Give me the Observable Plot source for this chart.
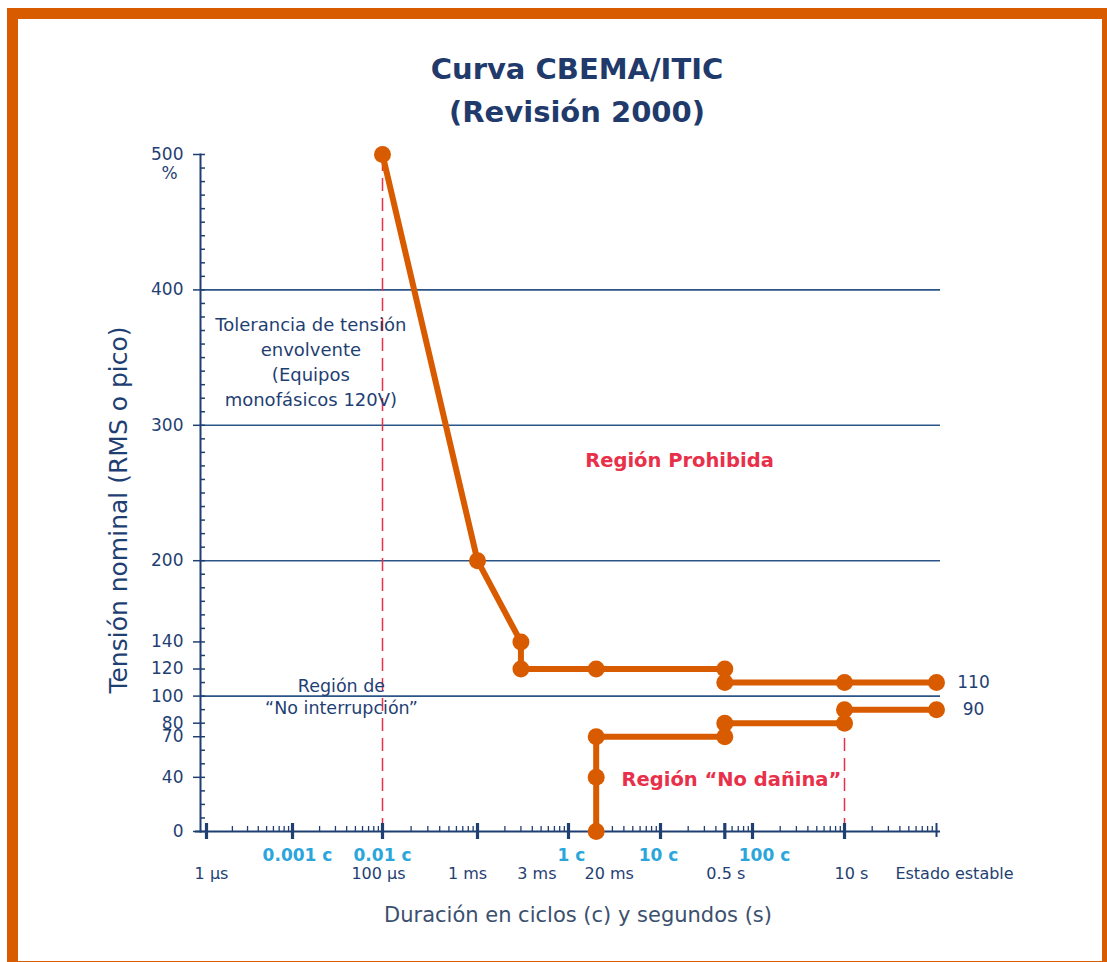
<!DOCTYPE html>
<html>
<head>
<meta charset="utf-8">
<script src="https://cdn.jsdelivr.net/npm/d3@7"></script>
<script src="https://cdn.jsdelivr.net/npm/@observablehq/plot@0.6"></script>
<style>
  body { margin: 0; background: #fff; font-family: "DejaVu Sans", sans-serif; }
  #wrap { position: relative; width: 1107px; height: 962px; overflow: hidden; background: #fff; }
  #border { position: absolute; left: 7px; top: 8px; width: 1106px; height: 964px; box-sizing: border-box; border: 11px solid #d95b00; pointer-events: none; }
  #chart { position: absolute; left: 0; top: 0; }
  .title { position: absolute; left: 0; width: 1154px; text-align: center; font-weight: bold; font-size: 29px; color: #1f3a6b; white-space: nowrap; }
  #ylab { position: absolute; left: 118px; top: 510px; transform: translate(-50%, -50%) rotate(-90deg); font-size: 25px; color: #1f3f73; white-space: nowrap; }
  #xlab { position: absolute; left: 0; width: 1156px; top: 903px; text-align: center; font-size: 21px; color: #3b506e; white-space: nowrap; }
</style>
</head>
<body>
<div id="wrap">
  <div id="chart"></div>
  <div class="title" style="top:52px">Curva CBEMA/ITIC</div>
  <div class="title" style="top:95px">(Revisión 2000)</div>
  <div id="ylab">Tensión nominal (RMS o pico)</div>
  <div id="xlab">Duración en ciclos (c) y segundos (s)</div>
  <div id="border"></div>
</div>
<script>
// ---- data ----
const upperT = [1e-4, 1e-3, 3e-3, 3e-3, 0.02, 0.5, 0.5, 10, 100];
const upperV = [500, 200, 140, 120, 120, 120, 110, 110, 110];
const lowerT = [0.02, 0.02, 0.02, 0.5, 0.5, 10, 10, 100];
const lowerV = [0, 40, 70, 70, 80, 80, 90, 90];

const endLabels = ["110", "90"];
const endLabelV = [110, 90];

const yTicks = [0, 40, 70, 80, 100, 120, 140, 200, 300, 400, 500];
const gridV = [100, 200, 300, 400];

const decades = [1e-6, 1e-5, 1e-4, 1e-3, 1e-2, 1e-1, 1, 10, 100];
const extraMajor = [0.5];

const secLabels = ["1 µs", "100 µs", "1 ms", "3 ms", "20 ms", "0.5 s", "10 s", "Estado estable"];
const secValues = [1e-6, 1e-4, 1e-3, 3e-3, 0.02, 0.5, 10, 100];
const secNudge  = [5, -4, -10, 16, 13, 1, 7, 18];

const cycLabels = ["0.001 c", "0.01 c", "1 c", "10 c", "100 c"];
const cycValues = [1e-5, 1e-4, 1e-2, 1e-1, 1];
const cycNudge  = [5, 0, 3, -2, 12];

const hGuideV   = [140, 120, 80, 70, 40];
const hGuideEnd = [3e-3, 3e-3, 0.5, 0.02, 0.02];
const vGuideT   = [1e-4, 10];
const vGuideTop = [500, 80];

const notesNavy = [
  {t: 1.6e-5, v: 348, text: "Tolerancia de tensión\nenvolvente\n(Equipos\nmonofásicos 120V)", size: 18, lh: 1.4},
  {t: 3.5e-5, v: 100, text: "Región de\n“No interrupción”", size: 17.5, lh: 1.27}
];
const notesRed = [
  {t: 0.161, v: 274, text: "Región Prohibida"},
  {t: 0.59, v: 38, text: "Región “No dañina”"}
];

// ---- derived tables ----
const upper = upperT.map((t, i) => ({t, v: upperV[i]}));
const lower = lowerT.map((t, i) => ({t, v: lowerV[i]}));
const minorX = [];
for (const d of decades.slice(0, -1)) for (let k = 2; k <= 9; k++) minorX.push(k * d);
const minorY = d3.range(0, 501, 10);
const hGuides = hGuideV.map((v, i) => ({v, t: hGuideEnd[i]}));
const vGuides = vGuideT.map((t, i) => ({t, top: vGuideTop[i]}));
const secTable = secLabels.map((s, i) => ({s, t: secValues[i], dx: secNudge[i]}));
const cycTable = cycLabels.map((s, i) => ({s, t: cycValues[i], dx: cycNudge[i]}));

const NAVY = "#1f3f73";
const ORANGE = "#d95b00";
const RED = "#e8304a";
const CYAN = "#2aa6dc";

const chart = Plot.plot({
  width: 1107,
  height: 962,
  marginLeft: 200,
  marginRight: 167,
  marginTop: 154,
  marginBottom: 131,
  style: {fontFamily: "DejaVu Sans, sans-serif", background: "transparent"},
  x: {type: "log", domain: decades, range: [206, 292, 382, 477, 568, 660, 752, 844, 936], axis: null},
  y: {type: "linear", domain: [0, 500], range: [831, 154], axis: null},
  marks: [
    // grid lines
    Plot.ruleY(gridV, {stroke: "#2b5487", strokeWidth: 1.6}),
    // red dashed guides
    Plot.ruleY(hGuides, {y: "v", x2: "t", stroke: RED, strokeWidth: 1.5, strokeDasharray: "13,7"}),
    Plot.ruleX(vGuides, {x: "t", y1: 0, y2: "top", stroke: RED, strokeWidth: 1.5, strokeDasharray: "13,7"}),
    // axes lines
    Plot.frame({anchor: "left", stroke: NAVY, strokeWidth: 2}),
    Plot.ruleY([0], {stroke: NAVY, strokeWidth: 2, insetLeft: -5}),
    // y ticks: minor (inward) and labelled (outward)
    Plot.tickY(minorY, {y: d => d, insetRight: 735, stroke: NAVY, strokeWidth: 1.5}),
    Plot.axisY({ticks: yTicks, tickSize: 7, tickPadding: 10, fontSize: 17, color: NAVY, stroke: NAVY, strokeWidth: 1.5, label: null}),
    Plot.text([{v: 500, s: "%"}], {y: "v", text: "s", frameAnchor: "left", dx: -31, dy: 19, fontSize: 17, fill: NAVY, textAnchor: "middle"}),
    // x ticks
    Plot.ruleX(minorX, {x: d => d, y1: 0, y2: 0, insetTop: -5, insetBottom: 0, stroke: NAVY, strokeWidth: 1.3}),
    Plot.ruleX(decades.slice(0, -1).concat(extraMajor), {x: d => d, y1: 0, y2: 0, insetTop: -8, insetBottom: -8, stroke: NAVY, strokeWidth: 3.2}),
    Plot.ruleX(decades.slice(-1), {x: d => d, y1: 0, y2: 0, insetTop: -8, insetBottom: -6, stroke: NAVY, strokeWidth: 2}),
    // x tick labels (two rows)
    ...cycTable.map(d => Plot.text([d], {x: "t", text: "s", dx: d.dx, frameAnchor: "bottom", dy: 24, fontSize: 17, fontWeight: "bold", fill: CYAN, textAnchor: "middle", lineAnchor: "middle"})),
    ...secTable.map(d => Plot.text([d], {x: "t", text: "s", dx: d.dx, frameAnchor: "bottom", dy: 42, fontSize: 16, fill: NAVY, textAnchor: "middle", lineAnchor: "middle"})),
    // annotations
    ...notesNavy.map(n => Plot.text([n], {x: "t", y: "v", text: "text", fontSize: n.size, lineHeight: n.lh, fill: NAVY, textAnchor: "middle", lineAnchor: "middle"})),
    Plot.text(notesRed, {x: "t", y: "v", text: "text", fontSize: 19.5, fontWeight: "bold", fill: RED, textAnchor: "middle", lineAnchor: "middle"}),
    // CBEMA/ITIC curves
    Plot.line(upper, {x: "t", y: "v", stroke: ORANGE, strokeWidth: 6, strokeLinejoin: "round", strokeLinecap: "round"}),
    Plot.line(lower, {x: "t", y: "v", stroke: ORANGE, strokeWidth: 6, strokeLinejoin: "round", strokeLinecap: "round"}),
    Plot.dot(upper, {x: "t", y: "v", r: 8.5, fill: ORANGE}),
    Plot.dot(lower, {x: "t", y: "v", r: 8.5, fill: ORANGE}),
    Plot.text(endLabels.map((s, i) => ({s, v: endLabelV[i], t: 100})), {x: "t", y: "v", text: "s", dx: 37, fontSize: 17, fill: NAVY, textAnchor: "middle", lineAnchor: "middle"})
  ]
});
document.getElementById("chart").appendChild(chart);
</script>
</body>
</html>
